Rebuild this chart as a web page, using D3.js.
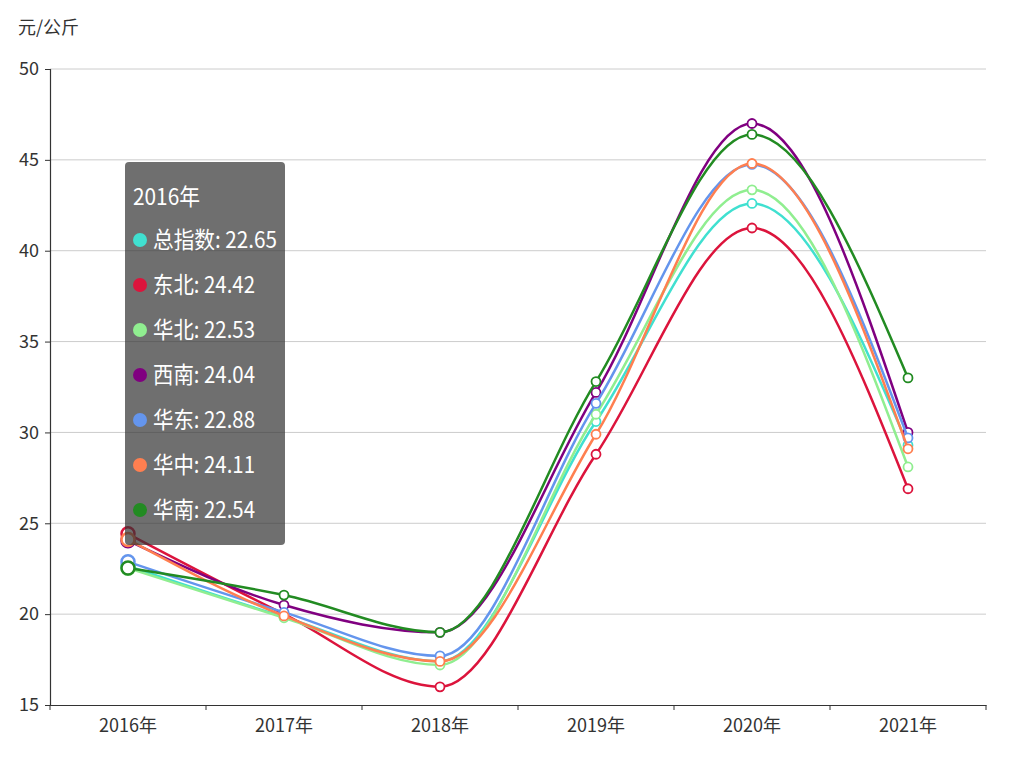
<!DOCTYPE html>
<html>
<head>
<meta charset="utf-8">
<script src="https://cdn.jsdelivr.net/npm/d3@7"></script>
<style>
  body { margin: 0; background: #fff; }
  text { font-family: "Noto Sans CJK SC", "Noto Sans", sans-serif; }
</style>
</head>
<body>
<script>
// data
var years = ["2016年", "2017年", "2018年", "2019年", "2020年", "2021年"];
var seriesNames = ["总指数", "东北", "华北", "西南", "华东", "华中", "华南"];
var seriesColors = ["#40E0D0", "#DC143C", "#90EE90", "#800080", "#6495ED", "#FF7F50", "#228B22"];
var zongzhishu = [22.65, 19.85, 17.4, 30.6, 42.6, 29.3];
var dongbei    = [24.42, 20.0, 16.0, 28.8, 41.25, 26.9];
var huabei     = [22.53, 19.8, 17.2, 31.0, 43.35, 28.1];
var xinan      = [24.04, 20.5, 19.0, 32.2, 47.0, 30.0];
var huadong    = [22.88, 20.1, 17.7, 31.6, 44.75, 29.7];
var huazhong   = [24.11, 19.9, 17.4, 29.9, 44.8, 29.1];
var huanan     = [22.54, 21.05, 19.0, 32.8, 46.4, 33.0];
var yTicks = [15, 20, 25, 30, 35, 40, 45, 50];
var hoverIndex = 0;

var allValues = [zongzhishu, dongbei, huabei, xinan, huadong, huazhong, huanan];

var w = 1020, h = 768,
    padLeft = 50, padRight = 986, padTop = 69, padBottom = 705;

var svg = d3.select("body").append("svg")
    .attr("width", w)
    .attr("height", h);

var x = d3.scaleBand()
    .domain(years)
    .range([padLeft, padRight]);
var y = d3.scaleLinear()
    .domain([15, 50])
    .range([padBottom, padTop]);

// grid lines
svg.append("g")
    .selectAll("line")
    .data(yTicks.slice(1))
    .enter()
    .append("line")
    .attr("x1", padLeft)
    .attr("x2", padRight)
    .attr("y1", function(d) { return y(d); })
    .attr("y2", function(d) { return y(d); })
    .attr("stroke", "#ccc")
    .attr("stroke-width", 1);

// axes
var yAxis = svg.append("g")
    .attr("transform", "translate(" + padLeft + ",0)")
    .call(d3.axisLeft(y).tickValues(yTicks).tickSize(5).tickPadding(6));
var xAxis = svg.append("g")
    .attr("transform", "translate(0," + padBottom + ")")
    .call(d3.axisBottom(x).tickSize(0).tickPadding(14));

[xAxis, yAxis].forEach(function(g) {
    g.select(".domain").attr("stroke", "#333").attr("stroke-width", 1.2);
    g.selectAll(".tick line").attr("stroke", "#333");
    g.selectAll("text").attr("fill", "#333").style("font-size", "18px");
});

// x ticks sit between the categories
xAxis.selectAll("line.bound")
    .data(d3.range(years.length + 1))
    .enter()
    .append("line")
    .attr("class", "bound")
    .attr("x1", function(i) { return padLeft + i * x.step(); })
    .attr("x2", function(i) { return padLeft + i * x.step(); })
    .attr("y1", 0)
    .attr("y2", 5)
    .attr("stroke", "#333");

svg.append("text")
    .attr("x", 18)
    .attr("y", 34)
    .attr("fill", "#333")
    .style("font-size", "18px")
    .text("元/公斤");

var cx = function(d, i) { return x(years[i]) + x.bandwidth() / 2; };

var line = d3.line()
    .x(cx)
    .y(function(d) { return y(d); })
    .curve(d3.curveMonotoneX);

var series = svg.append("g")
    .selectAll("g")
    .data(allValues)
    .enter()
    .append("g");

series.append("path")
    .attr("d", function(d) { return line(d); })
    .attr("fill", "none")
    .attr("stroke", function(d, i) { return seriesColors[i]; })
    .attr("stroke-width", 2.5);

series.each(function(vals, s) {
    d3.select(this).selectAll("circle")
        .data(vals)
        .enter()
        .append("circle")
        .attr("cx", cx)
        .attr("cy", function(d) { return y(d); })
        .attr("r", function(d, i) { return i == hoverIndex ? 6.5 : 4.5; })
        .attr("fill", "#fff")
        .attr("stroke", seriesColors[s])
        .attr("stroke-width", function(d, i) { return i == hoverIndex ? 2.5 : 1.8; });
});

// tooltip for the hovered year
var tip = svg.append("g")
    .attr("transform", "translate(125,162)");
tip.append("rect")
    .attr("width", 160)
    .attr("height", 383)
    .attr("rx", 4)
    .attr("fill", "rgba(50,50,50,0.7)");
tip.append("text")
    .attr("x", 8)
    .attr("y", 43)
    .attr("fill", "#fff")
    .style("font-size", "23px")
    .attr("textLength", 67)
    .attr("lengthAdjust", "spacingAndGlyphs")
    .text(years[hoverIndex]);
var rows = tip.selectAll("g.row")
    .data(seriesNames)
    .enter()
    .append("g")
    .attr("class", "row")
    .attr("transform", function(d, i) { return "translate(0," + (78 + i * 45) + ")"; });
rows.append("circle")
    .attr("cx", 15)
    .attr("cy", 0)
    .attr("r", 7)
    .attr("fill", function(d, i) { return seriesColors[i]; });
rows.append("text")
    .attr("x", 28)
    .attr("y", 8)
    .attr("fill", "#fff")
    .style("font-size", "23px")
    .attr("textLength", function(d) { return d.length == 3 ? 124 : 102; })
    .attr("lengthAdjust", "spacingAndGlyphs")
    .text(function(d, i) { return d + ": " + allValues[i][hoverIndex].toFixed(2); });
</script>
</body>
</html>
